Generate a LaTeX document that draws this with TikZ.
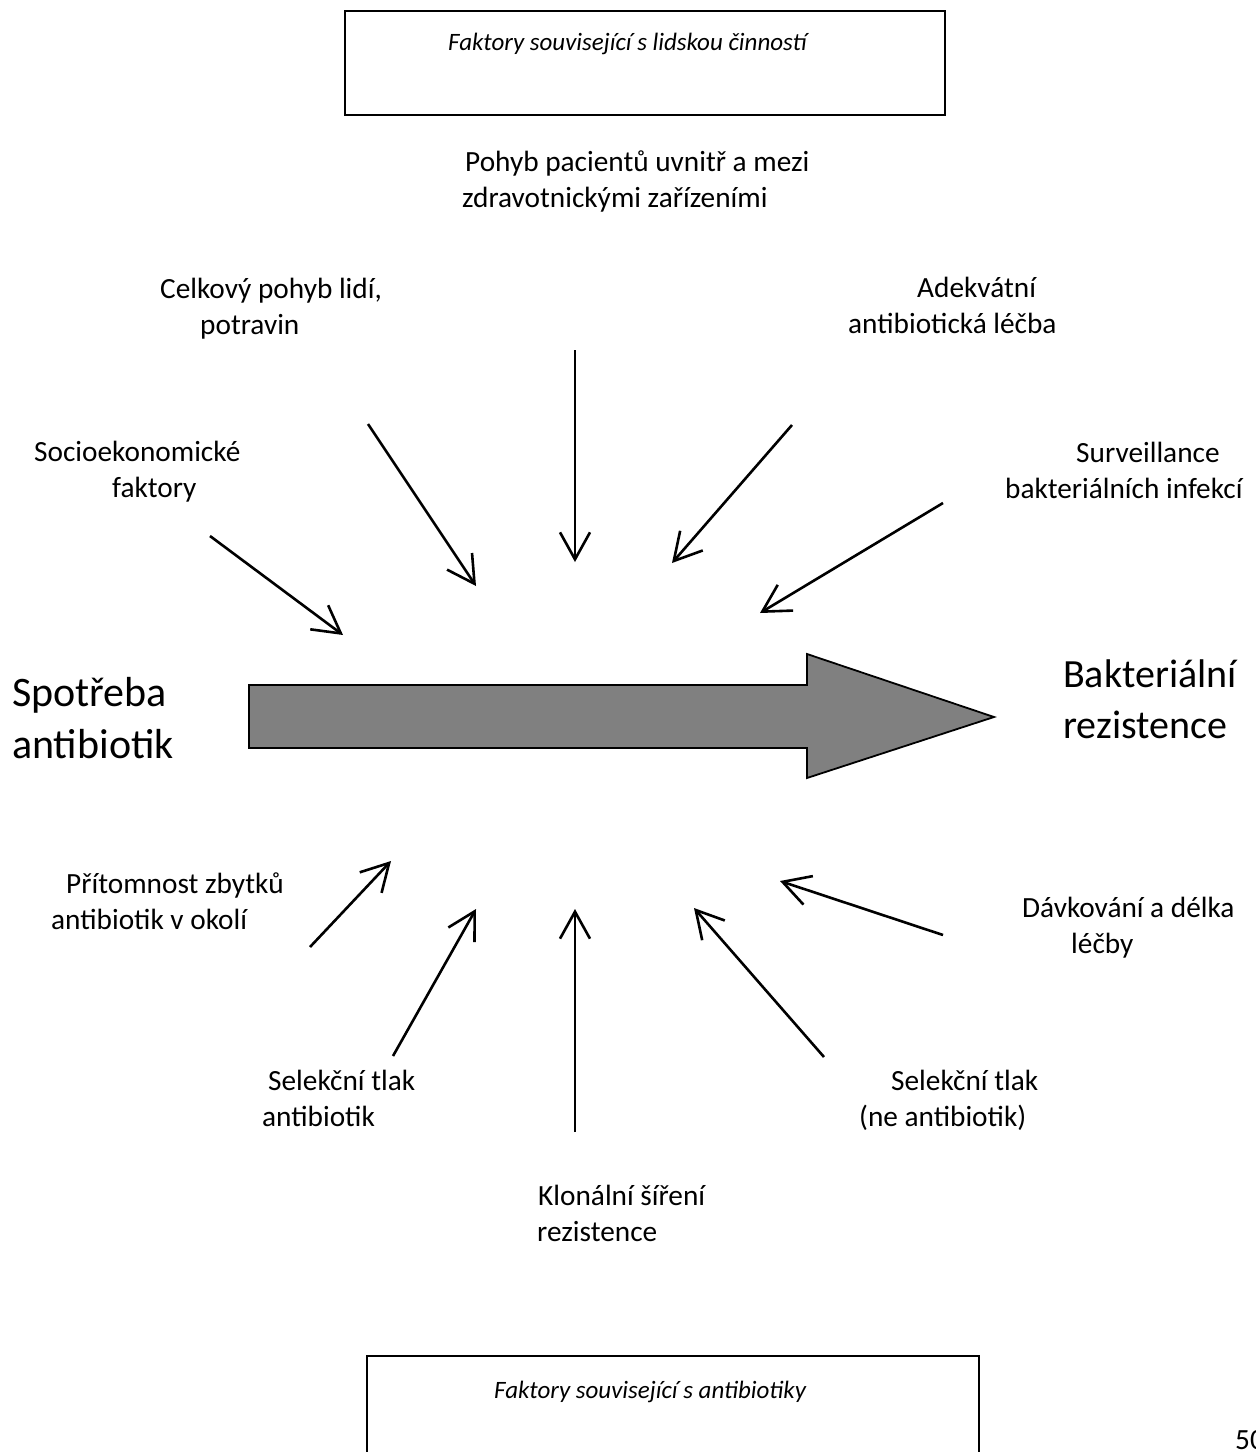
\documentclass[tikz,border=0pt]{standalone}
\usepackage{fontspec}
\setmainfont{Carlito}
\usetikzlibrary{arrows.meta}
\newcommand{\boxfnt}{\fontsize{25}{30.5}\selectfont}
\newcommand{\smlfnt}{\fontsize{29.3}{36.5}\selectfont}
\newcommand{\bigfnt}{\fontsize{42}{52}\selectfont}
\newcommand{\bigfntb}{\fontsize{40}{51}\selectfont}
\begin{document}
\begin{tikzpicture}[x=1pt,y=-1pt,
  lbl/.style={anchor=base west,inner sep=0pt,font=\smlfnt},
  boxlbl/.style={anchor=base west,inner sep=0pt,font=\boxfnt\itshape},
  biglbl/.style={anchor=base west,inner sep=0pt},
  factor/.style={line width=2.6pt,-{Straight Barb[length=27pt,width=30pt]}},
  framebox/.style={draw,line width=2.6pt}]
\useasboundingbox (0,0) rectangle (1256,1452);
\clip (0,0) rectangle (1256,1452);
% boxes
\draw[framebox] (345,11) rectangle (945,115);
\node[boxlbl] (top) at (448,50) {Faktory související s lidskou činností};
\draw[framebox] (367,1356) rectangle (979,1475);
\node[boxlbl] (bot) at (494,1398) {Faktory související s antibiotiky};
% big arrow
\draw[line width=1.8pt,fill={rgb,255:red,128;green,128;blue,128}]
  (249,685) -- (807,685) -- (807,654) -- (994,717) -- (807,778) -- (807,748) -- (249,748) -- cycle;
\node[biglbl,font=\bigfnt] (spot) at (12,706) {\begin{tabular}[t]{@{}l@{}}Spotřeba\\antibiotik\end{tabular}};
\node[biglbl,font=\bigfntb] (bakt) at (1063,687) {\begin{tabular}[t]{@{}l@{}}Bakteriální\\rezistence\end{tabular}};
% labels
\node[lbl] (pohyb) at (462,171) {\begin{tabular}[t]{@{}l@{}}\hspace*{3pt}Pohyb pacientů uvnitř a mezi\\zdravotnickými zařízeními\end{tabular}};
\node[lbl] (celk) at (160,298) {\begin{tabular}[t]{@{}l@{}}Celkový pohyb lidí,\\\hspace*{40pt}potravin\end{tabular}};
\node[lbl] (adek) at (848,297) {\begin{tabular}[t]{@{}l@{}}\hspace*{69pt}Adekvátní\\antibiotická léčba\end{tabular}};
\node[lbl] (socio) at (34,461) {\begin{tabular}[t]{@{}l@{}}Socioekonomické\\\hspace*{78pt}faktory\end{tabular}};
\node[lbl] (surv) at (1005,462) {\begin{tabular}[t]{@{}l@{}}\hspace*{71pt}Surveillance\\bakteriálních infekcí\end{tabular}};
\node[lbl] (prit) at (51,893) {\begin{tabular}[t]{@{}l@{}}\hspace*{15pt}Přítomnost zbytků\\antibiotik v okolí\end{tabular}};
\node[lbl] (davk) at (1022,917) {\begin{tabular}[t]{@{}l@{}}Dávkování a délka\\\hspace*{49pt}léčby\end{tabular}};
\node[lbl] (sel1) at (262,1090) {\begin{tabular}[t]{@{}l@{}}\hspace*{6pt}Selekční tlak\\antibiotik\end{tabular}};
\node[lbl] (sel2) at (859,1090) {\begin{tabular}[t]{@{}l@{}}\hspace*{32pt}Selekční tlak\\(ne antibiotik)\end{tabular}};
\node[lbl] (klon) at (537,1205) {\begin{tabular}[t]{@{}l@{}}\hspace*{1pt}Klonální šíření\\rezistence\end{tabular}};
\node[lbl] (page) at (1235,1449) {50};
% arrow endpoints
\coordinate (a1s) at (575,350);  \coordinate (a1e) at (575,562);
\coordinate (a2s) at (368,424);  \coordinate (a2e) at (476,586);
\coordinate (a3s) at (792,425);  \coordinate (a3e) at (672,563);
\coordinate (a4s) at (943,503);  \coordinate (a4e) at (760,613);
\coordinate (a5s) at (210,536);  \coordinate (a5e) at (343,635);
\coordinate (b1s) at (310,947);  \coordinate (b1e) at (391,861);
\coordinate (b2s) at (393,1056); \coordinate (b2e) at (476,909);
\coordinate (b3s) at (575,1132); \coordinate (b3e) at (575,909);
\coordinate (b4s) at (824,1057); \coordinate (b4e) at (694,908);
\coordinate (b5s) at (943,935);  \coordinate (b5e) at (780,881);
\foreach \p in {a1,a2,a3,a4,a5,b1,b2,b3,b4,b5}
  \draw[factor] (\p s) -- (\p e);
\end{tikzpicture}
\end{document}
